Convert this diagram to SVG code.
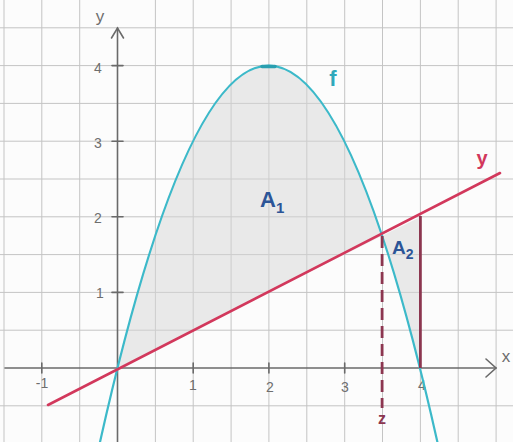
<svg xmlns="http://www.w3.org/2000/svg" width="513" height="442" viewBox="0 0 513 442">
<style>
.grid line{stroke:#c4c4c4;stroke-width:1}
.axis{stroke:#6a6a6a;stroke-width:1.6;fill:none;stroke-linecap:round}
.tick{font-family:"Liberation Sans",Arial,sans-serif;font-size:14px;fill:#6e6e6e;text-anchor:middle}
.axlabel{font-size:17px}
.shade{fill:#d6d6d6;fill-opacity:0.5;stroke:none}
.hand{font-family:"Liberation Sans",Arial,sans-serif;font-weight:bold}
</style>
<rect width="513" height="442" fill="#fcfcfc"/>
<g class="grid" id="grid">
<line x1="4" y1="0" x2="4" y2="442"/><line x1="41.8" y1="0" x2="41.8" y2="442"/><line x1="79.7" y1="0" x2="79.7" y2="442"/><line x1="155.4" y1="0" x2="155.4" y2="442"/><line x1="193.2" y1="0" x2="193.2" y2="442"/><line x1="231.1" y1="0" x2="231.1" y2="442"/><line x1="268.9" y1="0" x2="268.9" y2="442"/><line x1="306.8" y1="0" x2="306.8" y2="442"/><line x1="344.7" y1="0" x2="344.7" y2="442"/><line x1="382.5" y1="0" x2="382.5" y2="442"/><line x1="420.4" y1="0" x2="420.4" y2="442"/><line x1="458.2" y1="0" x2="458.2" y2="442"/><line x1="496.1" y1="0" x2="496.1" y2="442"/>
<line x1="0" y1="27.8" x2="513" y2="27.8"/><line x1="0" y1="65.6" x2="513" y2="65.6"/><line x1="0" y1="103.4" x2="513" y2="103.4"/><line x1="0" y1="141.2" x2="513" y2="141.2"/><line x1="0" y1="179" x2="513" y2="179"/><line x1="0" y1="216.8" x2="513" y2="216.8"/><line x1="0" y1="254.6" x2="513" y2="254.6"/><line x1="0" y1="292.4" x2="513" y2="292.4"/><line x1="0" y1="330.2" x2="513" y2="330.2"/><line x1="0" y1="405.8" x2="513" y2="405.8"/>
</g>
<g id="area-A1"><path class="shade" d="M117.5,368 Q249.8,-161.2 382.1,235.7 Z"/></g>
<g id="area-A2"><path class="shade" d="M382.1,235.7 L420.4,217 L420.4,368 Q401,292.4 382.1,235.7 Z"/></g>
<g id="axes">
<line class="axis" x1="5" y1="368" x2="496" y2="368"/>
<path class="axis" d="M486,359 L496,368 L486,377"/>
<line class="axis" x1="117.5" y1="442" x2="117.5" y2="28"/>
<path class="axis" d="M111.5,38 L117.5,28 L123.5,38"/>
<line class="axis" x1="112" y1="65.6" x2="123" y2="65.6"/><line class="axis" x1="112" y1="141.2" x2="123" y2="141.2"/><line class="axis" x1="112" y1="216.8" x2="123" y2="216.8"/><line class="axis" x1="112" y1="292.4" x2="123" y2="292.4"/>
<line class="axis" x1="41.8" y1="363" x2="41.8" y2="373"/><line class="axis" x1="193.2" y1="363" x2="193.2" y2="373"/><line class="axis" x1="268.9" y1="363" x2="268.9" y2="373"/><line class="axis" x1="344.7" y1="363" x2="344.7" y2="373"/>
<text class="tick" x="98" y="73">4</text><text class="tick" x="98" y="148">3</text><text class="tick" x="98" y="223">2</text><text class="tick" x="100" y="298">1</text>
<text class="tick" x="42" y="388">-1</text><text class="tick" x="193" y="390">1</text><text class="tick" x="270" y="392">2</text><text class="tick" x="345" y="392">3</text><text class="tick" x="422" y="390">4</text>
<text class="tick axlabel" x="506" y="362">x</text><text class="tick axlabel" x="100" y="22">y</text>
</g>
<g id="connectors">
<path id="parabola-f" d="M98.6,448.3 Q268.7,-317.1 438.8,448.3" fill="none" stroke="#3cb9c9" stroke-width="2.2"/>
<path d="M262,66.5 L275,66.5" stroke="#2a9fb0" stroke-width="3.5" stroke-linecap="round"/>
<line id="line-y" x1="48" y1="405" x2="500" y2="173" stroke="#d2385c" stroke-width="2.6" stroke-linecap="round"/>
<line id="bound-z" x1="382.1" y1="236" x2="382.1" y2="408" stroke="#8c3650" stroke-width="2.8" stroke-dasharray="12,6"/>
<line id="bound-4" x1="420.4" y1="216" x2="420.4" y2="368" stroke="#8c3650" stroke-width="2.8"/>
</g>
<g id="labels">
<text class="hand" x="333" y="86" font-size="22" fill="#2fa8bb" text-anchor="middle">f</text>
<text class="hand" x="482" y="165" font-size="20" fill="#d2385c" text-anchor="middle">y</text>
<text class="hand" x="260" y="207" font-size="22" fill="#2c5597">A<tspan font-size="15" dy="6">1</tspan></text>
<text class="hand" x="392" y="254" font-size="19" fill="#2c5597">A<tspan font-size="14" dy="5">2</tspan></text>
<text class="hand" x="382" y="424" font-size="16" fill="#8c3650" text-anchor="middle">z</text>
</g>
</svg>
